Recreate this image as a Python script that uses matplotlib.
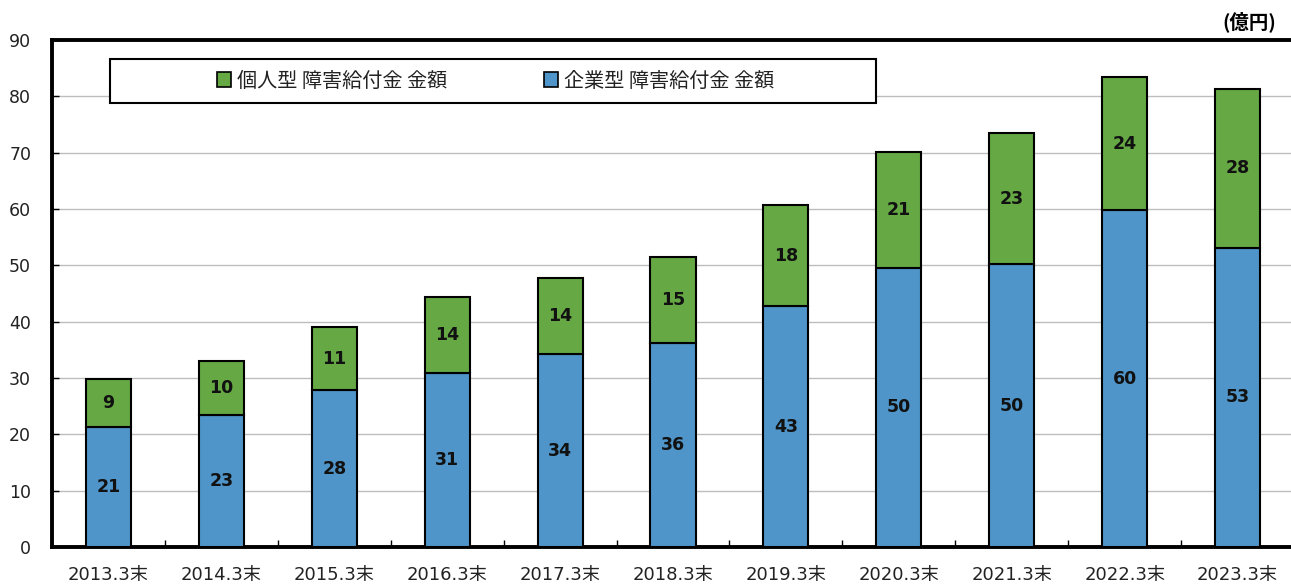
import matplotlib
matplotlib.use("Agg")
import matplotlib.pyplot as plt
from matplotlib.patches import Rectangle, Patch
import numpy as np

plt.rcParams['font.family'] = ['DejaVu Sans', 'Noto Sans CJK JP']

# 年度末ごとの障害給付金 金額（億円）
periods = ["2013.3末", "2014.3末", "2015.3末", "2016.3末", "2017.3末", "2018.3末",
           "2019.3末", "2020.3末", "2021.3末", "2022.3末", "2023.3末"]
corporate = [21.3, 23.4, 27.8, 30.8, 34.2, 36.2, 42.7, 49.6, 50.2, 59.8, 53.1]
individual = [8.6, 9.6, 11.3, 13.6, 13.6, 15.3, 18.0, 20.6, 23.3, 23.6, 28.2]
labels = ["個人型 障害給付金 金額", "企業型 障害給付金 金額"]
yticks = [0, 10, 20, 30, 40, 50, 60, 70, 80, 90]

c_blue = "#4F95C9"
c_green = "#65A844"
c_text = "#222222"

fig = plt.figure(figsize=(12.91, 5.86), dpi=100)
ax = fig.add_axes([52/1291, 1-547/586, 1242/1291, 507/586])

x = np.arange(len(periods))
w = 0.40
ax.bar(x, corporate, w, color=c_blue, edgecolor="black", linewidth=1.5, zorder=3)
ax.bar(x, individual, w, bottom=corporate, color=c_green, edgecolor="black",
       linewidth=1.5, zorder=3)

for xi, c, i in zip(x, corporate, individual):
    ax.text(xi, c/2, f"{c:.0f}", ha="center", va="center", fontsize=12.5,
            fontweight="bold", color="#111111", zorder=4)
    ax.text(xi, c + i/2, f"{i:.0f}", ha="center", va="center", fontsize=12.5,
            fontweight="bold", color="#111111", zorder=4)

ax.set_xlim(-0.5, len(periods) - 0.5)
ax.set_ylim(0, 90)
ax.set_yticks(yticks)
ax.set_yticklabels([str(t) for t in yticks], fontsize=12.5, color=c_text)
ax.set_xticks(x)
ax.set_xticklabels(periods, fontsize=13, color=c_text)
ax.set_xticks(np.arange(len(periods) + 1) - 0.5, minor=True)
ax.tick_params(axis="x", which="major", length=0, pad=14)
ax.tick_params(axis="x", which="minor", direction="in", length=5, width=1)
ax.tick_params(axis="y", direction="in", length=5, width=1, pad=15)

ax.yaxis.grid(True, color="#BDBDBD", linewidth=1, zorder=0)
ax.set_axisbelow(True)

for side in ["left", "bottom", "top"]:
    ax.spines[side].set_linewidth(2.8)
ax.spines["right"].set_visible(False)

# 凡例の枠
rx0, rx1 = 58/1242, 824/1242
ry0, ry1 = 78.8, 86.6
ax.add_patch(Rectangle((rx0, ry0), rx1 - rx0, ry1 - ry0,
                       transform=ax.get_yaxis_transform(), facecolor="white",
                       edgecolor="black", linewidth=1.5, zorder=5))
handles = [Patch(facecolor=c_green, edgecolor="black", linewidth=1.2),
           Patch(facecolor=c_blue, edgecolor="black", linewidth=1.2)]
leg = ax.legend(handles, labels, loc="center", ncol=2, frameon=False,
                bbox_to_anchor=((rx0 + rx1) / 2 + 0.002, 0.919),
                bbox_transform=ax.transAxes,
                prop={"family": "Noto Sans CJK JP", "size": 14.5},
                handlelength=0.7, handleheight=0.7, handletextpad=0.3,
                columnspacing=4.8)
for t in leg.get_texts():
    t.set_color(c_text)
leg.set_zorder(6)

fig.text(1276/1291, 1-22/586, "(億円)", ha="right", va="center",
         fontsize=14, fontweight="bold", family="Noto Sans CJK JP")

fig.savefig("out.png", dpi=100)
